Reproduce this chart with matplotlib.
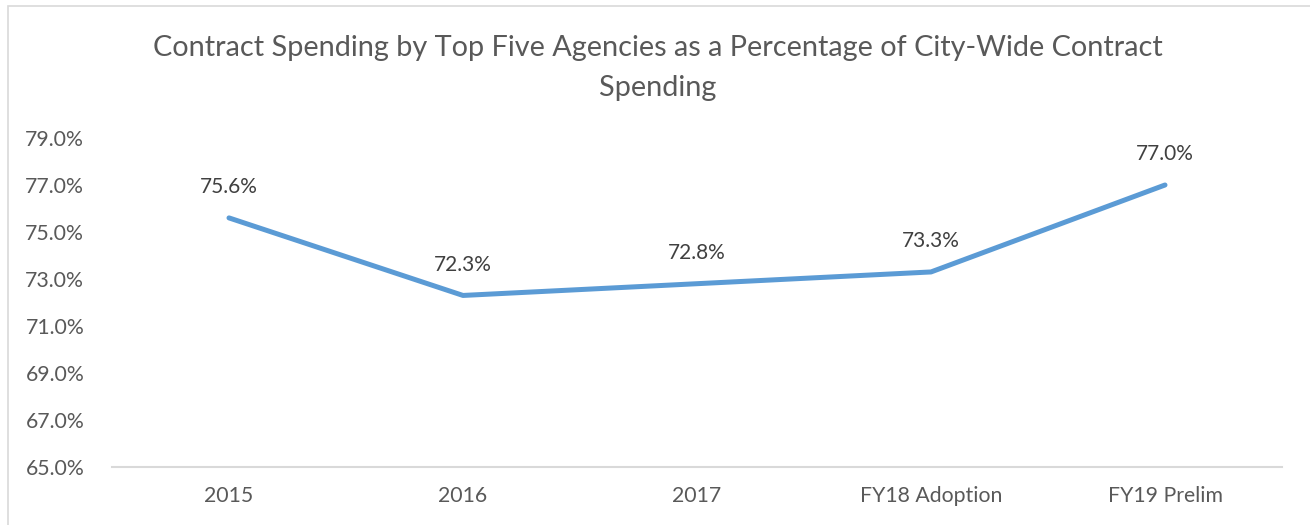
import matplotlib.pyplot as plt
from matplotlib.patches import Rectangle

plt.rcParams['font.family'] = ['Lato', 'DejaVu Sans']

categories = ['2015', '2016', '2017', 'FY18 Adoption', 'FY19 Prelim']
values = [75.6, 72.3, 72.8, 73.3, 77.0]
yticks = [65, 67, 69, 71, 73, 75, 77, 79]
title = 'Contract Spending by Top Five Agencies as a Percentage of City-Wide Contract\nSpending'

fig = plt.figure(figsize=(13.1, 5.25), dpi=100)

# chart frame (right and bottom run off the picture)
fig.patches.append(Rectangle((8 / 1310, -0.1), 1.2, (525 - 6) / 525 + 0.1,
                             transform=fig.transFigure, fill=False,
                             edgecolor='#D9D9D9', linewidth=1.2))

ax = fig.add_axes([112 / 1310, (525 - 467) / 525, 1170 / 1310, (467 - 138) / 525])
x = list(range(len(categories)))
ax.plot(x, values, color='#5B9BD5', linewidth=3.6, solid_capstyle='round',
        solid_joinstyle='round')

for xi, v in zip(x, values):
    ax.annotate(f'{v:.1f}%', (xi, v), xytext=(0, 22), textcoords='offset points',
                ha='center', va='center', fontsize=15, color='#404040')

ax.set_xlim(-0.5, len(categories) - 0.5)
ax.set_ylim(65, 79)
ax.set_yticks(yticks)
ax.set_yticklabels([f'{t:.1f}%' for t in yticks])
ax.set_xticks(x)
ax.set_xticklabels(categories)
ax.tick_params(length=0, labelsize=15.3, labelcolor='#595959')
ax.tick_params(axis='y', pad=20)
ax.tick_params(axis='x', pad=14)
for s in ['top', 'right', 'left']:
    ax.spines[s].set_visible(False)
ax.spines['bottom'].set_color('#D9D9D9')
ax.spines['bottom'].set_linewidth(1.5)

fig.text(658 / 1310, 1 - 68 / 525, title, ha='center', va='center',
         fontsize=20.8, color='#595959', linespacing=1.68)

fig.savefig('out.png', dpi=100)
